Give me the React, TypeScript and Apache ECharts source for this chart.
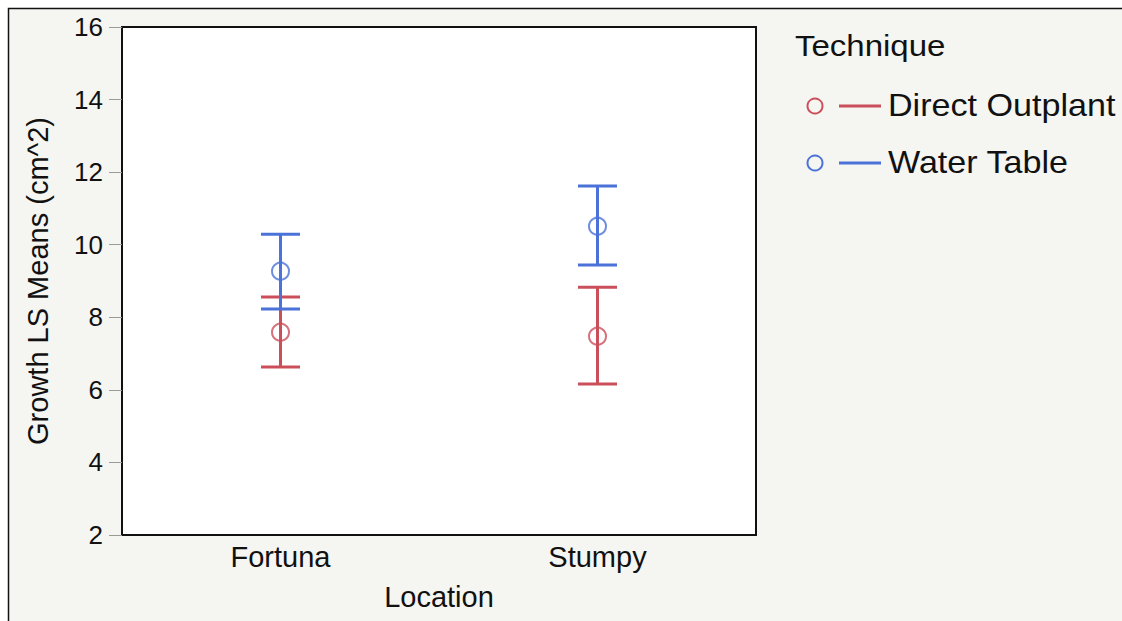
import React, { useEffect, useRef } from "react";
import * as echarts from "echarts";

const locations = ["Fortuna", "Stumpy"];
const techniques = ["Direct Outplant", "Water Table"];
const techniqueColors = ["#cb4f5b", "#4a72d8"];
// LS means and interval bounds, per technique, per location
const directMeans = [7.59, 7.48];
const directLower = [6.63, 6.16];
const directUpper = [8.56, 8.83];
const waterMeans = [9.27, 10.51];
const waterLower = [8.23, 9.44];
const waterUpper = [10.29, 11.62];
const yTicks = { min: 2, max: 16, interval: 2 };

const FONT = "Liberation Sans, Arial, Helvetica, sans-serif";

export default function App() {
  const ref = useRef<HTMLDivElement>(null);

  useEffect(() => {
    if (!ref.current) return;
    const chart = echarts.init(ref.current, undefined, { renderer: "svg" });

    const errorBarRender = (color: string) => (params: any, api: any) => {
      const cat = api.value(0);
      const lo = api.coord([cat, api.value(1)]);
      const hi = api.coord([cat, api.value(2)]);
      const half = 19.5;
      const style = { stroke: color, lineWidth: 3 };
      return {
        type: "group",
        children: [
          { type: "line", shape: { x1: lo[0], y1: lo[1], x2: hi[0], y2: hi[1] }, style },
          { type: "line", shape: { x1: lo[0] - half, y1: lo[1], x2: lo[0] + half, y2: lo[1] }, style },
          { type: "line", shape: { x1: hi[0] - half, y1: hi[1], x2: hi[0] + half, y2: hi[1] }, style },
        ],
      };
    };

    const groups = [
      { means: directMeans, lower: directLower, upper: directUpper },
      { means: waterMeans, lower: waterLower, upper: waterUpper },
    ];

    const series: any[] = [];
    groups.forEach((g, i) => {
      series.push({
        type: "custom",
        name: techniques[i],
        renderItem: errorBarRender(techniqueColors[i]),
        data: locations.map((_, j) => [j, g.lower[j], g.upper[j]]),
        z: 2,
      });
    });
    groups.forEach((g, i) => {
      series.push({
        type: "scatter",
        name: techniques[i],
        data: locations.map((loc, j) => [loc, g.means[j]]),
        symbol: "circle",
        symbolSize: 17,
        itemStyle: { color: "#ffffff00", borderColor: techniqueColors[i], borderWidth: 2 },
        z: 3,
      });
    });

    // Legend block: title, then circle + line swatch and label per technique
    const legendGraphics: any[] = [
      {
        type: "text",
        x: 795,
        y: 46,
        scaleX: 1.1,
        style: { text: "Technique", font: `30px ${FONT}`, fill: "#111", textVerticalAlign: "middle" },
      },
    ];
    techniques.forEach((t, i) => {
      const y = 106 + i * 57;
      legendGraphics.push(
        { type: "circle", shape: { cx: 815, cy: y, r: 7.5 }, style: { fill: "none", stroke: techniqueColors[i], lineWidth: 2 } },
        { type: "line", shape: { x1: 839, y1: y, x2: 881, y2: y }, style: { stroke: techniqueColors[i], lineWidth: 3 } },
        {
          type: "text",
          x: 888,
          y,
          scaleX: 1.1,
          style: { text: t, font: `31px ${FONT}`, fill: "#111", textVerticalAlign: "middle" },
        }
      );
    });

    chart.setOption({
      animation: false,
      backgroundColor: "#ffffff",
      graphic: [
        {
          type: "rect",
          shape: { x: 8.5, y: 8.5, width: 1300, height: 800 },
          style: { fill: "#f5f5f1", stroke: "#111", lineWidth: 1.5 },
          z: -10,
          silent: true,
        },
        ...legendGraphics,
      ],
      grid: {
        show: true,
        left: 122,
        top: 27,
        right: 366,
        bottom: 86,
        backgroundColor: "#ffffff",
        borderColor: "#111",
        borderWidth: 2,
      },
      xAxis: {
        type: "category",
        data: locations,
        axisLine: { show: false },
        axisTick: { show: false },
        splitLine: { show: false },
        axisLabel: { color: "#111", fontSize: 29, fontFamily: FONT, margin: 7 },
        name: "Location",
        nameLocation: "middle",
        nameGap: 47,
        nameTextStyle: { color: "#111", fontSize: 29, fontFamily: FONT },
      },
      yAxis: {
        type: "value",
        min: yTicks.min,
        max: yTicks.max,
        interval: yTicks.interval,
        axisLine: { show: false },
        axisTick: { show: true, inside: false, length: 13, lineStyle: { color: "#9a9a9a", width: 1 } },
        splitLine: { show: false },
        axisLabel: { color: "#111", fontSize: 26, fontFamily: FONT, margin: 19 },
        name: "Growth LS Means (cm^2)",
        nameLocation: "middle",
        nameGap: 70,
        nameTextStyle: { color: "#111", fontSize: 29, fontFamily: FONT },
      },
      series,
    });

    return () => chart.dispose();
  }, []);

  return (
    <div
      ref={ref}
      style={{ position: "absolute", left: 0, top: 0, width: 1122, height: 621 }}
    />
  );
}
